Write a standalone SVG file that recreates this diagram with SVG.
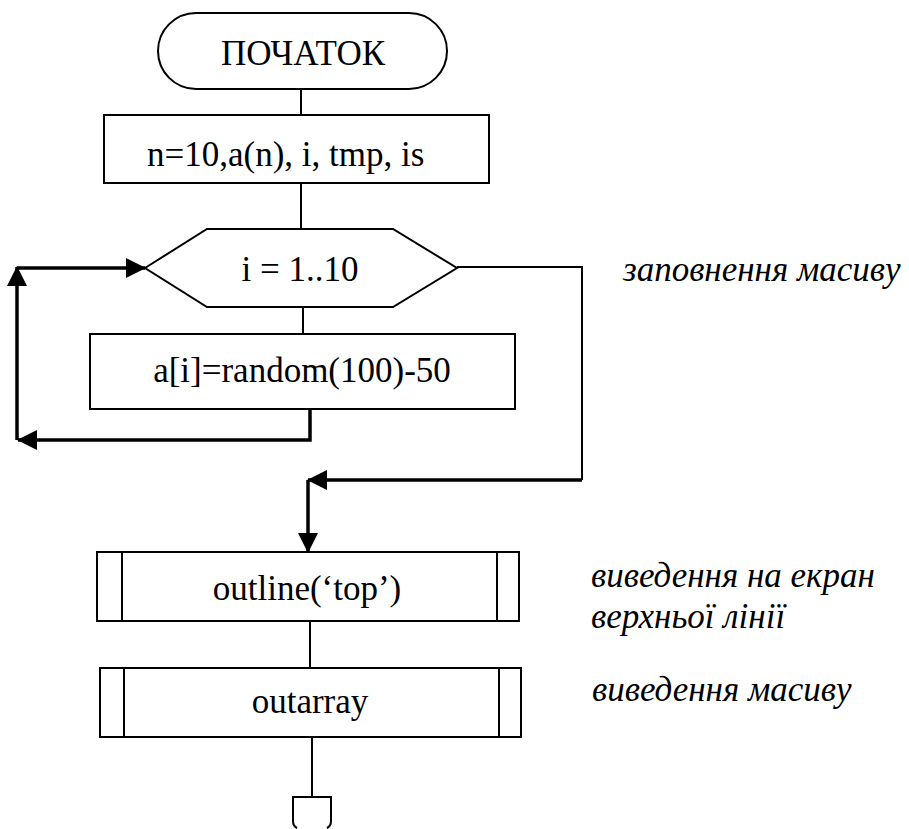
<svg xmlns="http://www.w3.org/2000/svg" width="909" height="829" viewBox="0 0 909 829">
<defs>
<marker id="ah" markerUnits="userSpaceOnUse" markerWidth="20" markerHeight="20" refX="19" refY="10" orient="auto">
<path d="M0,0 L20,10 L0,20 z" fill="#000"/>
</marker>
<style>
.box{fill:#fff;stroke:#000;stroke-width:2}
.ln{fill:none;stroke:#000;stroke-width:2}
.thk{fill:none;stroke:#000;stroke-width:3.5}
.t{font-size:35px;fill:#000}
.c{text-anchor:middle}
.lab{font-size:35px;font-style:italic;fill:#000}
</style>
</defs>
<rect width="909" height="829" fill="#fff"/>
<g id="connectors">
<line class="ln" x1="301" y1="89" x2="301" y2="115"/>
<line class="ln" x1="301" y1="183" x2="301" y2="229"/>
<line class="ln" x1="303" y1="307" x2="303" y2="334"/>
<path class="thk" d="M310,409 L310,440 L18,440" marker-end="url(#ah)"/>
<path class="thk" d="M17,440 L17,267" marker-end="url(#ah)"/>
<path class="thk" d="M17,268 L145,268" marker-end="url(#ah)"/>
<path class="ln" d="M457,267 L582,267 L582,480" stroke-width="2.5"/>
<path class="thk" d="M582,480 L308,480" marker-end="url(#ah)"/>
<path class="thk" d="M308,480 L308,552" marker-end="url(#ah)"/>
<line class="ln" x1="310" y1="621" x2="310" y2="668"/>
<line class="ln" x1="312" y1="737" x2="312" y2="797"/>
</g>
<g font-family="Liberation Serif, DejaVu Serif, serif">
<g id="start">
<rect class="box" x="158" y="13" width="289" height="76" rx="38" ry="38"/>
<text class="t c" x="303" y="65">ПОЧАТОК</text>
</g>
<g id="init">
<rect class="box" x="104" y="115" width="385" height="68"/>
<text class="t" x="147" y="166">n=10,a(n), i, tmp, is</text>
</g>
<g id="loop">
<polygon class="box" points="145,268 207,229 393,229 457,268 393,307 207,307"/>
<text class="t c" x="300" y="281">i = 1..10</text>
</g>
<g id="fill">
<rect class="box" x="90" y="334" width="425" height="75"/>
<text class="t c" x="302" y="382">a[i]=random(100)-50</text>
</g>
<g id="outline">
<rect class="box" x="97" y="552" width="422" height="69"/>
<line class="ln" x1="122" y1="552" x2="122" y2="621"/>
<line class="ln" x1="497" y1="552" x2="497" y2="621"/>
<text class="t c" x="307" y="600">outline(‘top’)</text>
</g>
<g id="outarray">
<rect class="box" x="100" y="668" width="421" height="69"/>
<line class="ln" x1="124" y1="668" x2="124" y2="737"/>
<line class="ln" x1="499" y1="668" x2="499" y2="737"/>
<text class="t c" x="310" y="713">outarray</text>
</g>
<g id="end">
<path class="ln" d="M297,828 Q293,826 293,821 L293,797 L331,797 L331,821 Q331,826 327,828"/>
</g>
<g id="labels">
<text class="lab" x="623" y="281">заповнення масиву</text>
<text class="lab" x="591" y="587">виведення на екран</text>
<text class="lab" x="591" y="628">верхньої лінії</text>
<text class="lab" x="592" y="701">виведення масиву</text>
</g>
</g>
</svg>
